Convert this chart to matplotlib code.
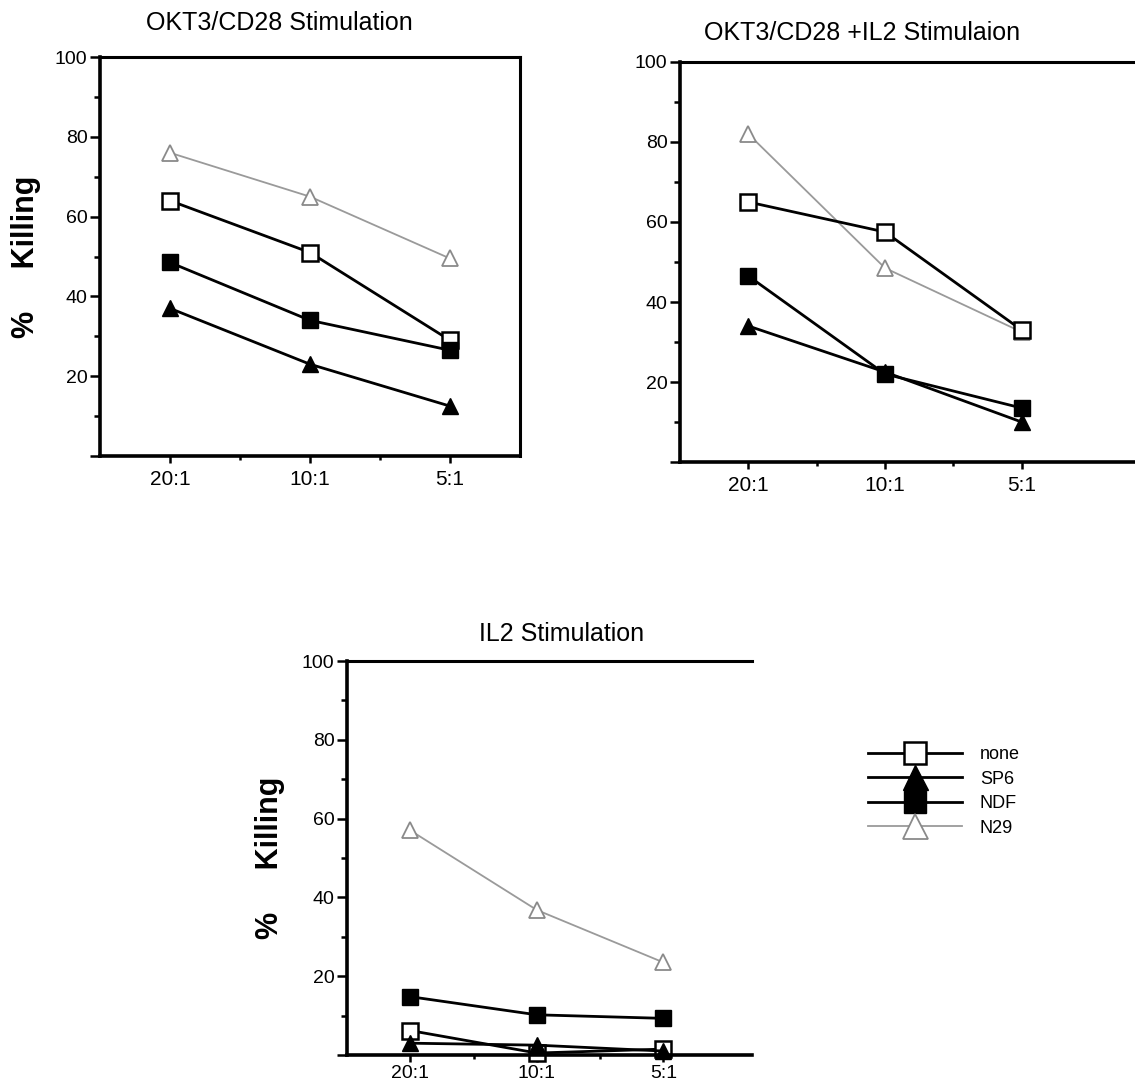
import numpy as np
import matplotlib.pyplot as plt
from matplotlib.ticker import MultipleLocator, FixedLocator

plt.rcParams['font.family'] = ['Liberation Sans', 'DejaVu Sans']

ratios = ['20:1', '10:1', '5:1']
groups = ['none', 'SP6', 'NDF', 'N29']

# % killing per panel
okt3_cd28 = {
    'none': [64, 51, 29],
    'SP6': [37, 23, 12.5],
    'NDF': [48.5, 34, 26.5],
    'N29': [76, 65, 49.5],
}
okt3_cd28_il2 = {
    'none': [65, 57.5, 33],
    'SP6': [34, 22.5, 10],
    'NDF': [46.5, 22, 13.5],
    'N29': [82, 48.5, 32.5],
}
il2 = {
    'none': [6.2, 0.5, 1.5],
    'SP6': [3, 2.5, 1],
    'NDF': [14.8, 10.2, 9.3],
    'N29': [57, 36.8, 23.5],
}

styles = {
    'none': dict(color='black', lw=2.0, marker='s', ms=11, mfc='white', mec='black', mew=1.8),
    'SP6': dict(color='black', lw=2.0, marker='^', ms=12, mfc='black', mec='black'),
    'NDF': dict(color='black', lw=2.0, marker='s', ms=11, mfc='black', mec='black'),
    'N29': dict(color='#9a9a9a', lw=1.3, marker='^', ms=12, mfc='white', mec='#8a8a8a', mew=1.3),
}

W, H = 1135, 1089
fig = plt.figure(figsize=(W / 100, H / 100), dpi=100)


def box(l, t, r, b):
    return [l / W, 1 - b / H, (r - l) / W, (b - t) / H]


def setup(ax, xmax, right_spine, xpad=5):
    x = np.arange(len(ratios))
    ax.set_xlim(-0.5, xmax)
    ax.set_ylim(0, 100)
    ax.xaxis.set_major_locator(FixedLocator(x))
    ax.xaxis.set_minor_locator(FixedLocator([0.5, 1.5]))
    ax.set_xticklabels(ratios, fontsize=15)
    ax.yaxis.set_major_locator(FixedLocator([0, 20, 40, 60, 80, 100]))
    ax.set_yticklabels(['', '20', '40', '60', '80', '100'], fontsize=14)
    ax.yaxis.set_minor_locator(MultipleLocator(10))
    ax.tick_params(axis='y', which='major', direction='out', length=7, width=1.8, pad=2)
    ax.tick_params(axis='y', which='minor', direction='out', length=4, width=1.8)
    ax.tick_params(axis='x', which='major', direction='out', length=5, width=1.8, pad=xpad)
    ax.tick_params(axis='x', which='minor', direction='out', length=3, width=1.8)
    for s in ['left', 'bottom']:
        ax.spines[s].set_linewidth(2.6)
    ax.spines['top'].set_linewidth(2.2)
    ax.spines['right'].set_linewidth(2.2)
    ax.spines['right'].set_visible(right_spine)


def draw(ax, data):
    x = np.arange(len(ratios))
    lines = {}
    for g in ['N29', 'none', 'NDF', 'SP6']:
        ln, = ax.plot(x, data[g], label=g, clip_on=False, **styles[g])
        lines[g] = ln
    return lines


ax1 = fig.add_axes(box(100, 57, 520, 456))
setup(ax1, 2.5, True)
draw(ax1, okt3_cd28)
ax1.text(-0.175, 0.5, '%     Killing', transform=ax1.transAxes, rotation=90,
         ha='center', va='center', fontsize=22, fontweight='bold')
fig.text(279 / W, 1 - 23 / H, 'OKT3/CD28 Stimulation', ha='center', va='center', fontsize=18)

ax2 = fig.add_axes(box(680, 62, 1135, 462))
setup(ax2, 2.83, False)
draw(ax2, okt3_cd28_il2)
fig.text(862 / W, 1 - 33 / H, 'OKT3/CD28 +IL2 Stimulaion', ha='center', va='center', fontsize=18)

ax3 = fig.add_axes(box(347, 661, 752, 1055))
setup(ax3, 2.7, False, xpad=2)
handles = draw(ax3, il2)
for lab in ax3.get_xticklabels():
    lab.set_fontsize(14)
ax3.text(-0.19, 0.5, '%     Killing', transform=ax3.transAxes, rotation=90,
         ha='center', va='center', fontsize=22, fontweight='bold')
fig.text(562 / W, 1 - 634 / H, 'IL2 Stimulation', ha='center', va='center', fontsize=18)

fig.legend([handles[g] for g in groups], groups, loc='upper left',
           bbox_to_anchor=(868 / W, 1 - 746 / H), frameon=False, fontsize=13,
           handlelength=5.2, handletextpad=1.0, labelspacing=0.42, markerscale=1.5,
           borderpad=0, borderaxespad=0)

fig.savefig('out.png', dpi=100)
